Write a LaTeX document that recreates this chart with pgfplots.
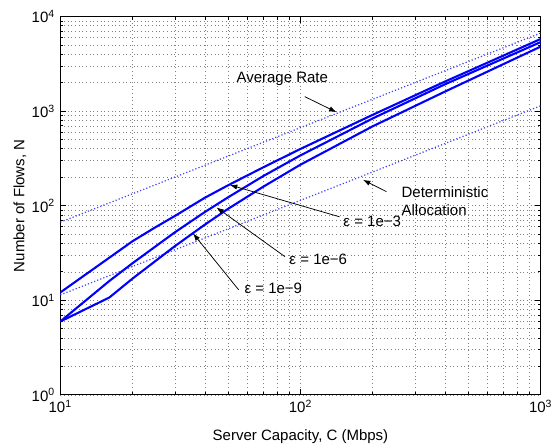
\documentclass[border=0pt]{standalone}
\usepackage{fontspec}
\setmainfont{Liberation Sans}
\usepackage{pgfplots}
\pgfplotsset{compat=1.18}
\usetikzlibrary{arrows.meta}
\definecolor{mblue}{RGB}{0,0,255}
\begin{document}
\fontsize{10}{12}\selectfont
\begin{tikzpicture}
\begin{axis}[
  name=ax,
  scale only axis,
  width=320.3pt, height=252.2pt,
  xmode=log, ymode=log,
  xmin=10, xmax=1000, ymin=1, ymax=10000,
  xtick={10,100,1000},
  xticklabels={10\textsuperscript{1},10\textsuperscript{2},10\textsuperscript{3}},
  ytick={1,10,100,1000,10000},
  yticklabels={10\textsuperscript{0},10\textsuperscript{1},10\textsuperscript{2},10\textsuperscript{3},10\textsuperscript{4}},
  minor xtick={20,30,40,50,60,70,80,90,200,300,400,500,600,700,800,900},
  minor ytick={2,3,4,5,6,7,8,9,20,30,40,50,60,70,80,90,200,300,400,500,600,700,800,900,2000,3000,4000,5000,6000,7000,8000,9000},
  tick align=inside,
  major tick length=4pt,
  minor tick length=2pt,
  every tick/.style={black, line width=0.5pt},
  grid=both,
  major grid style={black!50, line width=0.45pt, dash pattern=on 0.45pt off 2pt},
  minor grid style={black!50, line width=0.45pt, dash pattern=on 0.45pt off 2pt},
  axis line style={black, line width=0.7pt},
  tick label style={font=\fontsize{10}{12}\selectfont},
  xlabel={Server Capacity, C (Mbps)},
  ylabel={Number of Flows, N},
  every axis x label/.style={at={(axis description cs:0.5,-0.111)}, anchor=center},
  every axis y label/.style={at={(axis description cs:-0.084,0.5)}, anchor=center, rotate=90},
  label style={font=\fontsize{10}{12}\selectfont},
  clip=true,
]
% Average rate (dotted)
\addplot[mblue!75, line width=0.8pt, dash pattern=on 0.8pt off 1.4pt] coordinates {
  (10,67) (100,670) (1000,6700)
};
% Deterministic allocation (dotted)
\addplot[mblue!75, line width=0.8pt, dash pattern=on 0.8pt off 1.4pt] coordinates {
  (10,11.4) (100,114) (1000,1140)
};
% eps = 1e-3
\addplot[mblue, line width=1.4pt] coordinates {
  (10,12.1) (20,42.2) (25,59.6) (30,78.0) (40,121.6) (50,164.8) (70,255) (100,399) (200,916) (400,2060) (1000,5800)
};
% eps = 1e-6
\addplot[mblue, line width=1.4pt] coordinates {
  (10,5.97) (16,16.0) (20,24.7) (30,52.4) (40,85.9) (50,123) (70,206) (100,341) (200,839) (400,1928) (1000,5380)
};
% eps = 1e-9
\addplot[mblue, line width=1.4pt] coordinates {
  (10,5.97) (16,10.7) (20,17.0) (30,37.4) (40,63.2) (50,92.9) (70,159) (100,272) (200,693) (400,1614) (1000,4820)
};
% annotations
\node[anchor=center] at (axis cs:84,2213) {Average Rate};
\draw[black, line width=0.5pt, -{Latex[length=5pt,width=3.5pt]}] (axis cs:104.2,1426) -- (axis cs:141.3,976);
\node[anchor=west, align=left, inner sep=0pt] at (axis cs:263,110.7) {Deterministic\\Allocation};
\draw[black, line width=0.5pt, -{Latex[length=5pt,width=3.5pt]}] (axis cs:228,141) -- (axis cs:182,188);
\node[anchor=center, inner sep=0pt] at (axis cs:199,68) {ε = 1e−3};
\draw[black, line width=0.5pt, -{Latex[length=5pt,width=3.5pt]}] (axis cs:145.5,76.4) -- (axis cs:50.8,166);
\node[anchor=center, inner sep=0pt] at (axis cs:118.6,27.2) {ε = 1e−6};
\draw[black, line width=0.5pt, -{Latex[length=5pt,width=3.5pt]}] (axis cs:86.1,29.0) -- (axis cs:44.7,96);
\node[anchor=center, inner sep=0pt] at (axis cs:77.1,13.5) {ε = 1e−9};
\draw[black, line width=0.5pt, -{Latex[length=5pt,width=3.5pt]}] (axis cs:55.3,12.9) -- (axis cs:35.7,51);
\end{axis}
\pgfresetboundingbox
\path[use as bounding box] ([xshift=-40.2pt,yshift=-33.3pt]ax.south west) rectangle ([xshift=10.9pt,yshift=11.1pt]ax.north east);
\end{tikzpicture}
\end{document}
